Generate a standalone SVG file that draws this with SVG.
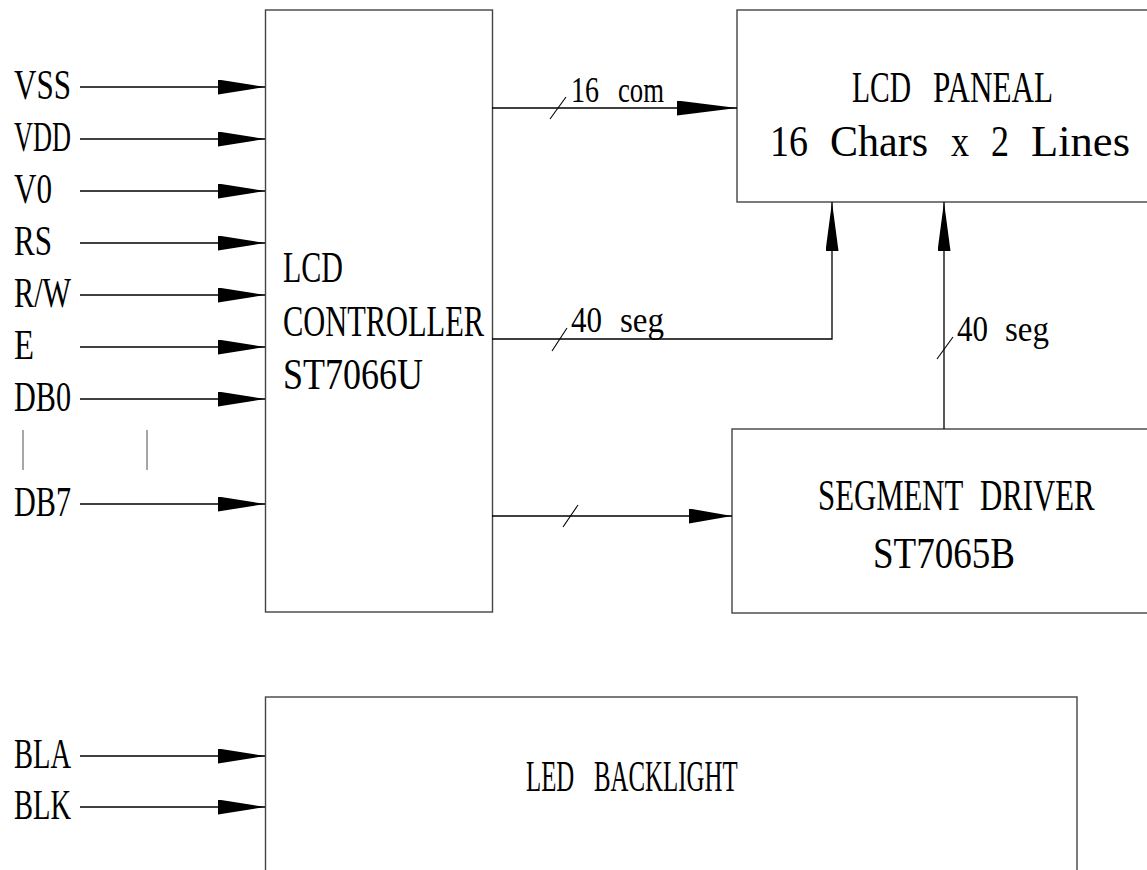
<svg xmlns="http://www.w3.org/2000/svg" width="1147" height="870" viewBox="0 0 1147 870">
<defs>
<style>
.box{fill:none;stroke:#444;stroke-width:1.4}
.ln{fill:none;stroke:#000;stroke-width:1.3}
.sl{stroke:#000;stroke-width:1.1}
.bar{stroke:#777;stroke-width:1.3}
text{font-family:"Liberation Serif","Noto Sans CJK SC",serif;fill:#000}
.lb{font-size:42px}
.big{font-size:44px}
.sm{font-size:36px}
</style>
<marker id="ah" markerUnits="userSpaceOnUse" markerWidth="47" markerHeight="15" refX="47" refY="7.5" orient="auto" viewBox="0 0 47 15">
<path d="M0,0 L47,7.5 L0,15 Z" fill="#000"/>
</marker>
<marker id="ahL" markerUnits="userSpaceOnUse" markerWidth="60" markerHeight="15" refX="60" refY="7.5" orient="auto" viewBox="0 0 60 15">
<path d="M0,0 L60,7.5 L0,15 Z" fill="#000"/>
</marker>
<marker id="ahU" markerUnits="userSpaceOnUse" markerWidth="49" markerHeight="13" refX="49" refY="6.5" orient="auto" viewBox="0 0 49 13">
<path d="M0,0 L49,6.5 L0,13 Z" fill="#000"/>
</marker>
<marker id="ahS" markerUnits="userSpaceOnUse" markerWidth="43" markerHeight="15" refX="43" refY="7.5" orient="auto" viewBox="0 0 43 15">
<path d="M0,0 L43,7.5 L0,15 Z" fill="#000"/>
</marker>
</defs>
<rect width="1147" height="870" fill="#fff"/>

<g id="controller">
<rect class="box" x="265.5" y="10" width="227" height="602"/>
<text class="big" x="283" y="282" textLength="60" lengthAdjust="spacingAndGlyphs">LCD</text>
<text class="big" x="283" y="336" textLength="201" lengthAdjust="spacingAndGlyphs">CONTROLLER</text>
<text class="big" x="283" y="389" textLength="140" lengthAdjust="spacingAndGlyphs">ST7066U</text>
</g>

<g id="panel">
<rect class="box" x="737" y="10" width="430" height="192"/>
<text class="big" y="102"><tspan x="852" textLength="59" lengthAdjust="spacingAndGlyphs">LCD</tspan> <tspan x="933" textLength="120" lengthAdjust="spacingAndGlyphs">PANEAL</tspan></text>
<text class="big" y="156"><tspan x="770" textLength="38" lengthAdjust="spacingAndGlyphs">16</tspan> <tspan x="830" textLength="98" lengthAdjust="spacingAndGlyphs">Chars</tspan> <tspan x="951" textLength="18" lengthAdjust="spacingAndGlyphs">x</tspan> <tspan x="991" textLength="18" lengthAdjust="spacingAndGlyphs">2</tspan> <tspan x="1031" textLength="99" lengthAdjust="spacingAndGlyphs">Lines</tspan></text>
</g>

<g id="segment-driver">
<rect class="box" x="732" y="429" width="430" height="184"/>
<text class="big" transform="translate(818,510) scale(0.7,1)"><tspan x="0" y="0">SEGMENT</tspan> <tspan x="231.4" y="0">DRIVER</tspan></text>
<text class="big" x="873" y="568" textLength="142" lengthAdjust="spacingAndGlyphs">ST7065B</text>
</g>

<g id="backlight">
<rect class="box" x="265.5" y="697" width="811.5" height="200"/>
<text class="big" transform="translate(526,791) scale(0.565,1)"><tspan x="0" y="0">LED</tspan> <tspan x="120.4" y="0">BACKLIGHT</tspan></text>
</g>

<g id="input-labels">
<text class="lb" x="14" y="99" textLength="57" lengthAdjust="spacingAndGlyphs">VSS</text>
<text class="lb" x="14" y="151" textLength="57" lengthAdjust="spacingAndGlyphs">VDD</text>
<text class="lb" x="14" y="203" textLength="38" lengthAdjust="spacingAndGlyphs">V0</text>
<text class="lb" x="14" y="255" textLength="38" lengthAdjust="spacingAndGlyphs">RS</text>
<text class="lb" x="14" y="307" textLength="57" lengthAdjust="spacingAndGlyphs">R/W</text>
<text class="lb" x="14" y="359" textLength="20" lengthAdjust="spacingAndGlyphs">E</text>
<text class="lb" x="14" y="411" textLength="57" lengthAdjust="spacingAndGlyphs">DB0</text>
<text class="lb" x="14" y="516" textLength="57" lengthAdjust="spacingAndGlyphs">DB7</text>
<text class="lb" x="14" y="768" textLength="57" lengthAdjust="spacingAndGlyphs">BLA</text>
<text class="lb" x="14" y="819" textLength="57" lengthAdjust="spacingAndGlyphs">BLK</text>
<line class="bar" x1="23" y1="430" x2="23" y2="470"/>
<line class="bar" x1="147" y1="430" x2="147" y2="470"/>
</g>

<g id="connectors">
<path class="ln" d="M80,87 H265" marker-end="url(#ah)"/>
<path class="ln" d="M80,139 H265" marker-end="url(#ah)"/>
<path class="ln" d="M80,191 H265" marker-end="url(#ah)"/>
<path class="ln" d="M80,243 H265" marker-end="url(#ah)"/>
<path class="ln" d="M80,295 H265" marker-end="url(#ah)"/>
<path class="ln" d="M80,347 H265" marker-end="url(#ah)"/>
<path class="ln" d="M80,399 H265" marker-end="url(#ah)"/>
<path class="ln" d="M80,504 H265" marker-end="url(#ah)"/>
<path class="ln" d="M80,756 H265" marker-end="url(#ah)"/>
<path class="ln" d="M80,807 H265" marker-end="url(#ah)"/>

<path class="ln" d="M492,108 H737" marker-end="url(#ahL)"/>
<line class="sl" x1="550" y1="119" x2="566" y2="97"/>
<text class="sm" y="102"><tspan x="571" textLength="28" lengthAdjust="spacingAndGlyphs">16</tspan> <tspan x="618" textLength="46" lengthAdjust="spacingAndGlyphs">com</tspan></text>

<path class="ln" d="M492,339 H832 V202" marker-end="url(#ahU)"/>
<line class="sl" x1="552" y1="351" x2="567" y2="328"/>
<text class="sm" y="332"><tspan x="571" textLength="31" lengthAdjust="spacingAndGlyphs">40</tspan> <tspan x="620" textLength="44" lengthAdjust="spacingAndGlyphs">seg</tspan></text>

<path class="ln" d="M944,429 V202" marker-end="url(#ahU)"/>
<line class="sl" x1="937" y1="359" x2="953" y2="337"/>
<text class="sm" y="341"><tspan x="957" textLength="31" lengthAdjust="spacingAndGlyphs">40</tspan> <tspan x="1005" textLength="44" lengthAdjust="spacingAndGlyphs">seg</tspan></text>

<path class="ln" d="M492,516 H732" marker-end="url(#ahS)"/>
<line class="sl" x1="563" y1="527" x2="578" y2="505"/>
</g>
</svg>
